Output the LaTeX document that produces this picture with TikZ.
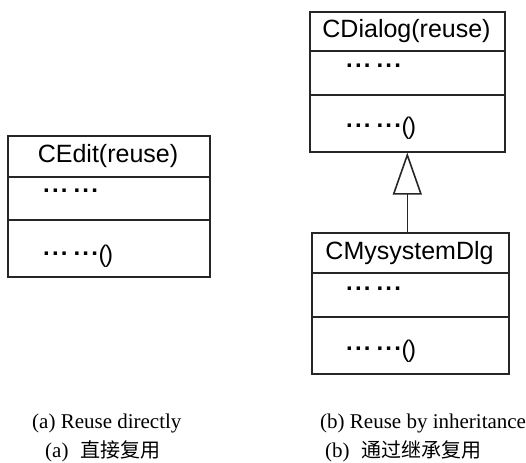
\documentclass[tikz,border=0pt]{standalone}
\usepackage{fontspec}
\setmainfont{Liberation Serif}
\newfontfamily\uifont{Liberation Sans}
\newfontfamily\cjk{Noto Sans CJK SC}
\usetikzlibrary{arrows.meta}
\tikzset{
  umlline/.style={draw=black!85, line width=1.6pt},
  umlbox/.style={umlline, rectangle, anchor=north west, inner sep=0pt},
  umltitle/.style={inner sep=0pt, font=\uifont\fontsize{25}{25}\selectfont},
  umlmember/.style={inner sep=0pt, anchor=base west, font=\uifont\bfseries\fontsize{24}{24}\selectfont},
  caption/.style={inner sep=0pt, anchor=base west, font=\fontsize{21}{21}\selectfont},
}
\newcommand{\umldots}{.\kern2.2pt.\kern2.2pt.}
\newcommand{\umlmem}{\umldots\kern6pt\umldots}
\newcommand{\umlparens}{\kern0.5pt\raisebox{-7pt}{\mdseries(\kern-1.5pt)}}
\begin{document}
\begin{tikzpicture}[x=1pt,y=-1pt]
\useasboundingbox (0,0) rectangle (526,462);

% CEdit box
\node[umlbox, minimum width=202pt, minimum height=141pt] (cedit) at (7,135) {};
\draw[umlline] (cedit.west |- 0,177) -- (cedit.east |- 0,177);
\draw[umlline] (cedit.west |- 0,220) -- (cedit.east |- 0,220);
\node[umltitle] (ceditname) at (108,156) {CEdit(reuse)};
\node[umlmember] (ceditattr) at (43,192) {\umlmem};
\node[umlmember] (ceditop) at (43,255) {\umlmem\umlparens};

% CDialog box
\node[umlbox, minimum width=195pt, minimum height=140pt] (dlg) at (309,11) {};
\draw[umlline] (dlg.west |- 0,51) -- (dlg.east |- 0,51);
\draw[umlline] (dlg.west |- 0,95) -- (dlg.east |- 0,95);
\node[umltitle] (dlgname) at (406.5,31) {CDialog(reuse)};
\node[umlmember] (dlgattr) at (346,68) {\umlmem};
\node[umlmember] (dlgop) at (346,128) {\umlmem\umlparens};

% CMysystemDlg box
\node[umlbox, minimum width=197pt, minimum height=141pt] (sub) at (311,232) {};
\draw[umlline] (sub.west |- 0,273) -- (sub.east |- 0,273);
\draw[umlline] (sub.west |- 0,317) -- (sub.east |- 0,317);
\node[umltitle] (subname) at (409.5,253) {CMysystemDlg};
\node[umlmember] (subattr) at (346,290) {\umlmem};
\node[umlmember] (subop) at (346,350) {\umlmem\umlparens};

% inheritance
\draw[umlline, -{Triangle[open, length=42pt, width=29pt, line width=1.6pt]}]
  (dlg.south |- sub.north) -- (dlg.south);

% captions
\node[caption] (capa) at (32,428.5) {(a) Reuse directly};
\node[caption] (capb) at (320,428.5) {(b) Reuse by inheritance};
\node[caption] (capacn) at (45,457) {(a)\hspace{12pt}{\cjk\fontsize{20}{20}\selectfont 直接复用}};
\node[caption] (capbcn) at (325,457) {(b)\hspace{12pt}{\cjk\fontsize{20}{20}\selectfont 通过继承复用}};
\end{tikzpicture}
\end{document}
